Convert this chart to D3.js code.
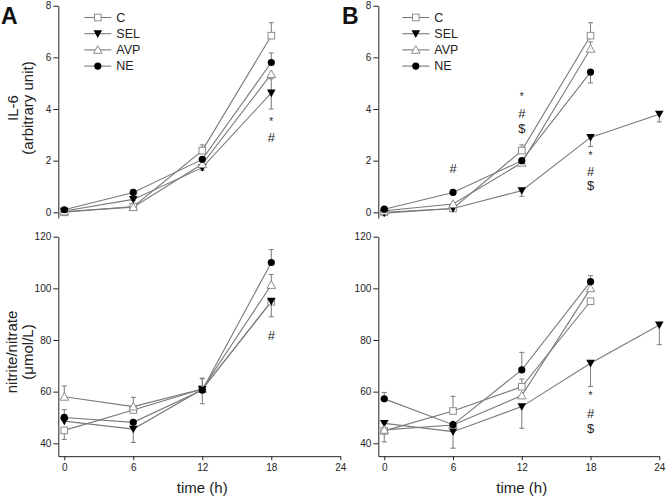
<!DOCTYPE html>
<html><head><meta charset="utf-8">
<script src="https://cdn.jsdelivr.net/npm/d3@7"></script>
<style>
body{margin:0;background:#fff;}
svg{font-family:"Liberation Sans",Arial,sans-serif;}
</style></head>
<body><svg id="c" width="666" height="496"></svg>
<script>
// ---------- data ----------
const seriesNames = ["C", "SEL", "AVP", "NE"];
const timeTicks = [0, 6, 12, 18, 24];
const il6Ticks = [0, 2, 4, 6, 8];
const noxTicks = [40, 60, 80, 100, 120];
const times4 = [0, 6, 12, 18];
const times5 = [0, 6, 12, 18, 24];

// Panel A – IL-6
const il6A_C   = [0.0, 0.22, 2.39, 6.84];
const il6A_C_up  = [0.05, 0.05, 0.22, 0.5];
const il6A_C_dn  = [0, 0, 0, 0];
const il6A_SEL = [0.05, 0.5, 1.73, 4.62];
const il6A_SEL_up = [0, 0, 0, 0.55];
const il6A_SEL_dn = [0, 0.05, 0.1, 0.62];
const il6A_AVP = [0.03, 0.2, 1.87, 5.35];
const il6A_AVP_up = [0, 0, 0, 0];
const il6A_AVP_dn = [0, 0, 0, 0];
const il6A_NE  = [0.1, 0.77, 2.05, 5.8];
const il6A_NE_up = [0, 0, 0, 0.37];
const il6A_NE_dn = [0, 0, 0, 0];

// Panel B – IL-6
const il6B_C   = [0.0, 0.15, 2.39, 6.84];
const il6B_C_up  = [0.05, 0, 0.22, 0.5];
const il6B_C_dn  = [0, 0, 0, 0];
const il6B_SEL = [-0.03, 0.15, 0.84, 2.9, 3.8];
const il6B_SEL_up = [0, 0, 0, 0.1, 0];
const il6B_SEL_dn = [0, 0, 0.22, 0.35, 0.3];
const il6B_AVP = [0.06, 0.32, 1.92, 6.33];
const il6B_AVP_up = [0, 0, 0, 0.27];
const il6B_AVP_dn = [0, 0, 0, 0];
const il6B_NE  = [0.12, 0.77, 2.0, 5.43];
const il6B_NE_up = [0, 0, 0, 0];
const il6B_NE_dn = [0, 0, 0.1, 0.42];

// Panel A – nitrite/nitrate
const noxA_C   = [45.0, 52.9, 61.0, 94.8];
const noxA_C_up  = [0, 0, 4, 0];
const noxA_C_dn  = [3.5, 0, 0, 0];
const noxA_SEL = [48.6, 45.5, 60.9, 95.0];
const noxA_SEL_up = [0, 0, 0, 0];
const noxA_SEL_dn = [0, 5.2, 5.6, 6.0];
const noxA_AVP = [58.0, 54.2, 61.0, 101.3];
const noxA_AVP_up = [4.2, 3.6, 4.2, 4.1];
const noxA_AVP_dn = [0, 0, 0, 0];
const noxA_NE  = [50.0, 48.1, 60.6, 110.0];
const noxA_NE_up = [3.0, 0, 0, 5.0];
const noxA_NE_dn = [0, 0, 0, 0];

// Panel B – nitrite/nitrate
const noxB_C   = [44.8, 52.5, 61.9, 95.0];
const noxB_C_up  = [0, 5.7, 3.0, 0];
const noxB_C_dn  = [0, 0, 0, 1.0];
const noxB_SEL = [47.7, 44.5, 54.2, 71.0, 85.8];
const noxB_SEL_up = [0, 0, 0, 0, 0];
const noxB_SEL_dn = [0, 6.4, 8.4, 9.0, 7.6];
const noxB_AVP = [45.2, 47.1, 58.5, 100.0];
const noxB_AVP_up = [0, 0, 0, 0];
const noxB_AVP_dn = [4.7, 0, 0, 0];
const noxB_NE  = [57.2, 47.2, 68.4, 102.6];
const noxB_NE_up = [2.5, 0, 6.8, 2.3];
const noxB_NE_dn = [0, 0, 0, 0];

// significance annotations: [time, value, text]
const annotIl6A = [[18, 3.5, "*"], [18, 2.88, "#"]];
const annotIl6B = [[6, 1.71, "#"], [12, 4.47, "*"], [12, 3.84, "#"], [12, 3.26, "$"],
                   [18, 2.19, "*"], [18, 1.57, "#"], [18, 1.03, "$"]];
const annotNoxA = [[18, 81.6, "#"]];
const annotNoxB = [[18, 58.4, "*"], [18, 51.6, "#"], [18, 45.8, "$"]];

// ---------- helpers ----------
function mk(t, v, up, dn) { return t.map((d, i) => ({t: d, v: v[i], up: up[i], dn: dn[i]})); }
const panels = [
  {key: "il6A", xr: [58.3, 340.3], top: true, annots: annotIl6A, letter: "A",
   series: [mk(times4, il6A_C, il6A_C_up, il6A_C_dn), mk(times4, il6A_SEL, il6A_SEL_up, il6A_SEL_dn),
            mk(times4, il6A_AVP, il6A_AVP_up, il6A_AVP_dn), mk(times4, il6A_NE, il6A_NE_up, il6A_NE_dn)]},
  {key: "il6B", xr: [378.3, 659.3], top: true, annots: annotIl6B, letter: "B",
   series: [mk(times4, il6B_C, il6B_C_up, il6B_C_dn), mk(times5, il6B_SEL, il6B_SEL_up, il6B_SEL_dn),
            mk(times4, il6B_AVP, il6B_AVP_up, il6B_AVP_dn), mk(times4, il6B_NE, il6B_NE_up, il6B_NE_dn)]},
  {key: "noxA", xr: [58.3, 340.3], top: false, annots: annotNoxA,
   series: [mk(times4, noxA_C, noxA_C_up, noxA_C_dn), mk(times4, noxA_SEL, noxA_SEL_up, noxA_SEL_dn),
            mk(times4, noxA_AVP, noxA_AVP_up, noxA_AVP_dn), mk(times4, noxA_NE, noxA_NE_up, noxA_NE_dn)]},
  {key: "noxB", xr: [378.3, 659.3], top: false, annots: annotNoxB,
   series: [mk(times4, noxB_C, noxB_C_up, noxB_C_dn), mk(times5, noxB_SEL, noxB_SEL_up, noxB_SEL_dn),
            mk(times4, noxB_AVP, noxB_AVP_up, noxB_AVP_dn), mk(times4, noxB_NE, noxB_NE_up, noxB_NE_dn)]}
];

const svg = d3.select("#c");
const LINE = "#7a7a7a";
const OPEN = "#8c8c8c";

function marker(g, name, x, y) {
  if (name === "C") {
    g.append("rect").attr("x", x - 3.3).attr("y", y - 3.3).attr("width", 6.6).attr("height", 6.6)
      .attr("fill", "#fff").attr("stroke", OPEN).attr("stroke-width", 1);
  } else if (name === "SEL") {
    g.append("path").attr("d", `M${x-4.3},${y-3.4}L${x+4.3},${y-3.4}L${x},${y+4.2}Z`).attr("fill", "#000");
  } else if (name === "AVP") {
    g.append("path").attr("d", `M${x-4.3},${y+3.4}L${x+4.3},${y+3.4}L${x},${y-4.2}Z`)
      .attr("fill", "#fff").attr("stroke", OPEN).attr("stroke-width", 1);
  } else {
    g.append("circle").attr("cx", x).attr("cy", y).attr("r", 3.6).attr("fill", "#000");
  }
}

panels.forEach(p => {
  const x0 = p.xr[0];
  const x = d3.scaleLinear().domain([-0.52, 24]).range(p.xr);
  const y = p.top ? d3.scaleLinear().domain([-0.22, 8]).range([218.0, 5.7])
                  : d3.scaleLinear().domain([35, 120]).range([456.2, 236.7]);
  const g = svg.append("g");

  // y axis
  const ya = g.append("g").attr("transform", `translate(${x0},0)`)
    .call(d3.axisLeft(y).tickValues(p.top ? il6Ticks : noxTicks).tickSize(5).tickSizeOuter(0).tickPadding(2));
  ya.selectAll("text").attr("font-size", 10).attr("font-family", "Liberation Sans, Arial, sans-serif").attr("fill", "#222");
  ya.selectAll("line,path").attr("stroke", "#222");

  if (!p.top) {
    const xa = g.append("g").attr("transform", `translate(0,${y(35)})`)
      .call(d3.axisBottom(x).tickValues(timeTicks).tickSize(4).tickSizeOuter(0).tickPadding(4));
    xa.selectAll("text").attr("font-size", 10).attr("font-family", "Liberation Sans, Arial, sans-serif").attr("fill", "#222");
    xa.selectAll("line,path").attr("stroke", "#222");
    g.append("text").attr("x", x(12)).attr("y", 493).attr("text-anchor", "middle")
      .attr("font-size", 15).attr("fill", "#222").text("time (h)");
  }

  // lines
  const line = d3.line().x(d => x(d.t)).y(d => y(d.v));
  p.series.forEach(s => {
    g.append("path").attr("d", line(s)).attr("fill", "none").attr("stroke", LINE).attr("stroke-width", 1.1);
  });
  // error bars
  p.series.forEach(s => {
    s.forEach(d => {
      [[d.up, 1], [d.dn, -1]].forEach(([e, sg]) => {
        if (e > 0) {
          const ye = y(d.v + sg * e);
          g.append("line").attr("x1", x(d.t)).attr("x2", x(d.t)).attr("y1", y(d.v)).attr("y2", ye)
            .attr("stroke", LINE).attr("stroke-width", 1);
          g.append("line").attr("x1", x(d.t) - 2.5).attr("x2", x(d.t) + 2.5).attr("y1", ye).attr("y2", ye)
            .attr("stroke", LINE).attr("stroke-width", 1);
        }
      });
    });
  });
  // markers
  p.series.forEach((s, i) => s.forEach(d => marker(g, seriesNames[i], x(d.t), y(d.v))));

  // annotations
  p.annots.forEach(a => {
    g.append("text").attr("x", x(a[0])).attr("y", y(a[1])).attr("text-anchor", "middle")
      .attr("dominant-baseline", "central").attr("font-size", a[2] === "*" ? 10 : 13)
      .attr("fill", "#222").text(a[2]);
  });

  // legend
  if (p.top) {
    const lx = x0 + (p.letter === "A" ? 26 : 24);
    seriesNames.forEach((n, i) => {
      const ly = 17.5 + i * 16.2;
      g.append("line").attr("x1", lx).attr("x2", lx + 27).attr("y1", ly).attr("y2", ly)
        .attr("stroke", LINE).attr("stroke-width", 1.1);
      marker(g, n, lx + 13.5, ly);
      g.append("text").attr("x", lx + 32).attr("y", ly).attr("dominant-baseline", "central")
        .attr("font-size", 12.5).attr("fill", "#222").text(n);
    });
    g.append("text").attr("x", p.letter === "A" ? 1 : 342).attr("y", 24)
      .attr("font-size", 23).attr("font-weight", "bold").attr("fill", "#111").text(p.letter);
  }
});

// y-axis titles
function vtext(x, y, t) {
  svg.append("text").attr("transform", `translate(${x},${y}) rotate(-90)`)
    .attr("text-anchor", "middle").attr("dominant-baseline", "central")
    .attr("font-size", 15).attr("fill", "#222").text(t);
}
vtext(12, 108, "IL-6");
vtext(27.5, 108, "(arbitrary unit)");
vtext(11, 352, "nitrite/nitrate");
vtext(27.5, 352, "(μmol/L)");
</script></body></html>
